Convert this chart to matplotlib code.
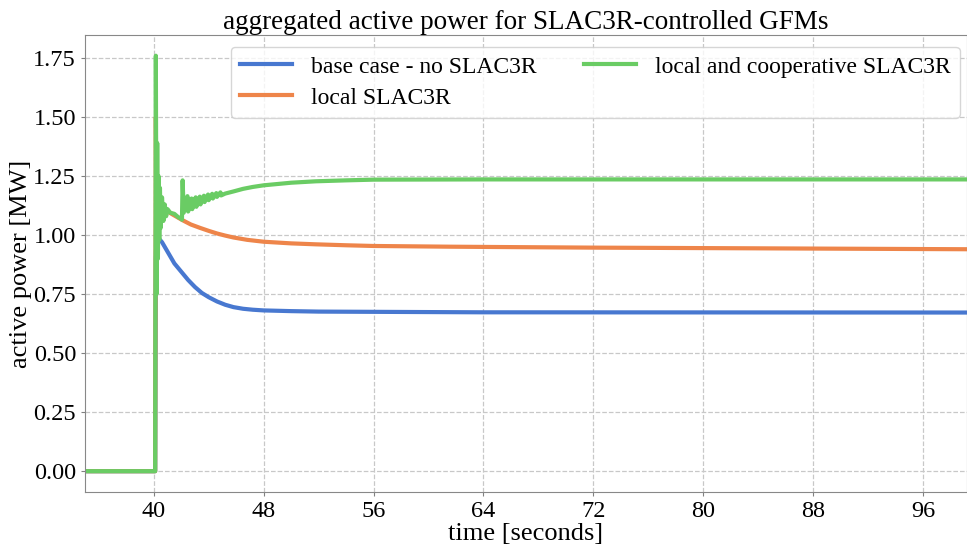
import matplotlib
matplotlib.use('Agg')
import matplotlib.pyplot as plt


# times [s] and values [MW]
t_base = [35, 40.1, 40.15, 40.2, 40.3, 40.6, 41, 41.5, 42, 42.5, 43, 43.5, 44,
          44.6, 45.2, 45.8, 46.5, 47.2, 48, 50, 52, 56, 64, 100]
p_base = [0, 0, 0.9, 1.0, 0.99, 0.97, 0.93, 0.88, 0.845, 0.81, 0.78, 0.755, 0.737,
          0.719, 0.705, 0.695, 0.688, 0.684, 0.681, 0.678, 0.676, 0.675, 0.673, 0.672]

t_local = [35, 40.1, 40.15, 40.2, 40.3, 40.5, 41, 42.1, 42.7, 43.35, 44, 44.6,
           45.2, 45.8, 46.8, 48, 50, 51.8, 54, 56, 61.5, 64, 72, 80, 88, 100]
p_local = [0, 0, 1.5, 0.8, 1.2, 1.08, 1.10, 1.063, 1.045, 1.031, 1.018, 1.007,
           0.998, 0.990, 0.98, 0.972, 0.965, 0.961, 0.957, 0.954, 0.951, 0.950,
           0.947, 0.945, 0.943, 0.940]

t_coop = [35, 40.1, 40.15, 40.2, 40.25, 40.3, 40.35, 40.4, 40.45, 40.5, 40.6,
          40.7, 40.8, 40.9, 41.0, 41.2, 41.5, 41.8, 42.0, 42.05, 42.1, 42.18,
          42.45, 42.5, 42.75, 42.8, 43.05, 43.1, 43.35, 43.4, 43.65, 43.7, 43.95,
          44.0, 44.25, 44.3, 44.55, 44.6, 44.85, 44.9, 45.2, 45.8, 46.5, 47.2, 48, 50,
          51.8, 54, 56, 64, 100]
p_coop = [0, 0, 1.76, 0.75, 1.39, 0.9, 1.25, 0.98, 1.2, 1.03, 1.16,
          1.06, 1.13, 1.08, 1.11, 1.095, 1.09, 1.075, 1.07, 1.065, 1.232, 1.095,
          1.165, 1.10, 1.155, 1.11, 1.16, 1.12, 1.163, 1.13, 1.167, 1.14, 1.172,
          1.148, 1.175, 1.155, 1.178, 1.162, 1.181, 1.168, 1.176, 1.185, 1.196, 1.204, 1.211, 1.222,
          1.228, 1.232, 1.235, 1.236, 1.236]

LEGENDAS = ['base case - no SLAC3R', 'local SLAC3R', 'local and cooperative SLAC3R']
CORES = ['#4878d0', '#ee854a', '#6acc64']
TICKS_X = [40, 48, 56, 64, 72, 80, 88, 96]


def main():
    plt.rcParams['font.family'] = ['Liberation Serif', 'DejaVu Serif']

    fig = plt.figure(figsize=(9.67, 5.46), dpi=100)
    ax = fig.add_axes([0.088, 0.099, 0.912, 0.837])

    series = [(t_base, p_base), (t_local, p_local), (t_coop, p_coop)]
    for (t, p), nome, cor in zip(series, LEGENDAS, CORES):
        ax.plot(t, p, color=cor, linewidth=3, label=nome)

    ax.set_xlim(35, 99.2)
    ax.set_ylim(-0.088, 1.848)
    ax.set_xticks(TICKS_X)
    ax.set_yticks([0, 0.25, 0.5, 0.75, 1.0, 1.25, 1.5, 1.75])
    ax.yaxis.set_major_formatter(matplotlib.ticker.FormatStrFormatter('%.2f'))
    ax.tick_params(labelsize=17.5, length=3, color='gray')

    ax.grid(True, linestyle='--', color='#c8c8c8', linewidth=0.9)
    for lado in ['left', 'bottom', 'top', 'right']:
        ax.spines[lado].set_color('#888888')

    ax.set_xlabel('time [seconds]', fontsize=19, labelpad=1)
    ax.set_ylabel('active power [MW]', fontsize=19, labelpad=1)
    ax.set_title('aggregated active power for SLAC3R-controlled GFMs', fontsize=19.5, pad=2)

    ax.legend(loc='upper right', ncol=2, fontsize=17, frameon=True,
              borderaxespad=0.3, handlelength=2.2, columnspacing=2.0,
              labelspacing=0.4, bbox_to_anchor=(1.0, 0.99))

    fig.savefig('out.png', dpi=100)


if __name__ == '__main__':
    main()
